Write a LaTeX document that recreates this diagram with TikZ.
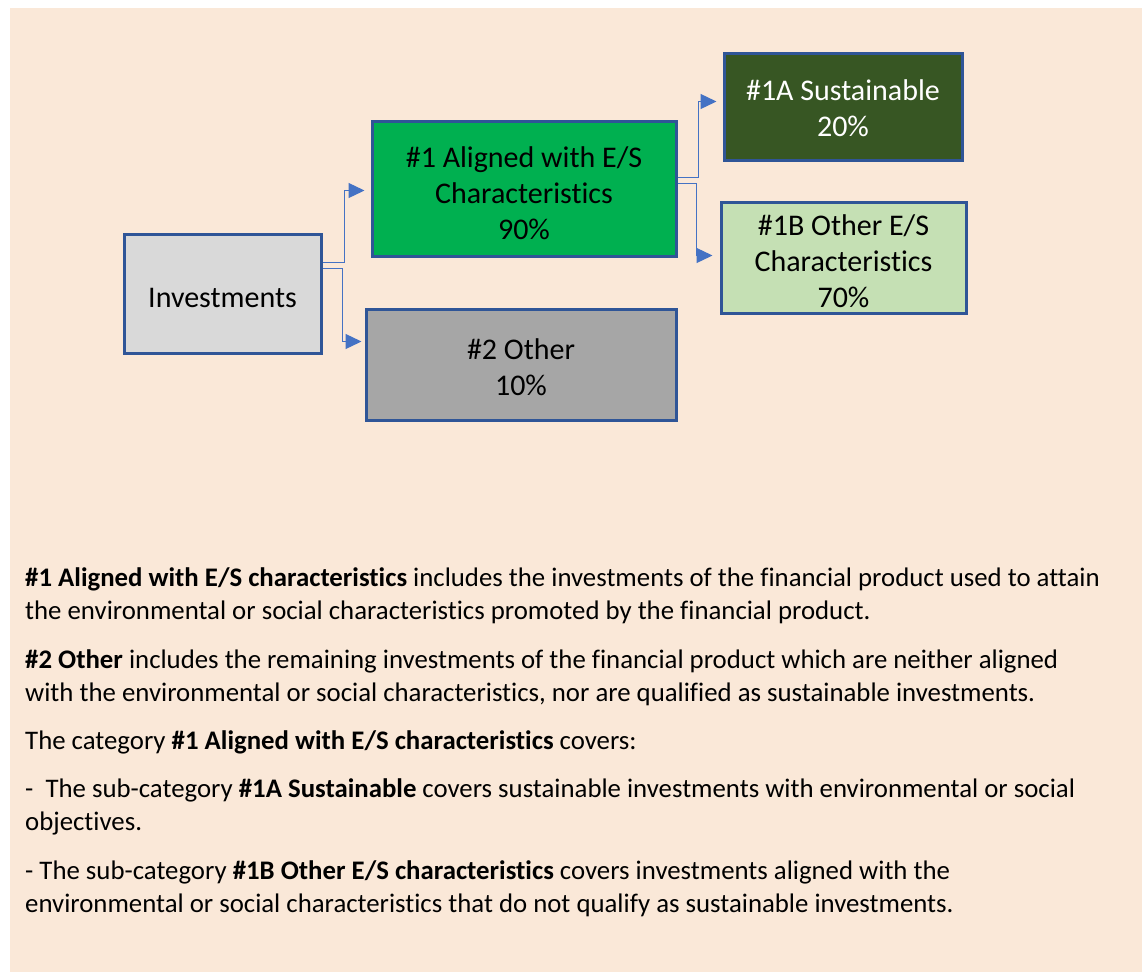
\documentclass[tikz,border=0pt]{standalone}
\usepackage{fontspec}
\setmainfont{Carlito}[Ligatures=CommonOff]
\usetikzlibrary{positioning,arrows.meta,calc}

\definecolor{peach}{HTML}{FAE8D8}
\definecolor{edgeblue}{HTML}{2F5597}
\definecolor{linkblue}{HTML}{4472C4}
\definecolor{invgray}{HTML}{D9D9D9}
\definecolor{othgray}{HTML}{A6A6A6}
\definecolor{brightgreen}{HTML}{00B050}
\definecolor{darkgreen}{HTML}{375623}
\definecolor{palegreen}{HTML}{C5E0B4}

\begin{document}
\begin{tikzpicture}[x=1pt, y=-1pt,
  box/.style={rectangle, draw=edgeblue, line width=3pt, align=center, inner sep=0pt,
    font=\fontsize{30}{36}\selectfont, text height=#1},
  box/.default=28pt,
  link/.style={draw=linkblue, line width=1.3pt, -{Triangle[length=16pt, width=15pt]}},
  para/.style={anchor=base west, align=left, inner sep=0pt,
    font=\fontsize{26.8}{33}\selectfont},
]

% page and background
\useasboundingbox (0,0) rectangle (1144,972);
\fill[peach] (10,8) rectangle (1142,972);

% Boxes
\node[box, fill=invgray, minimum width=197pt, minimum height=119pt] (inv) at (222.5,293.5) {Investments};
\node[box=101.5pt, fill=brightgreen, minimum width=304pt, minimum height=135pt] (algn) at (524,188.5)
  {\#1 Aligned with E/S\\Characteristics\\90\%};
\node[box=61.5pt, fill=othgray, minimum width=310pt, minimum height=111pt] (oth) at (521,364.5)
  {\#2 Other\\10\%};
\node[box=61pt, fill=darkgreen, text=white, minimum width=238pt, minimum height=107pt] (sust) at (843,106.5)
  {\#1A Sustainable\\20\%};
\node[box=99.5pt, fill=palegreen, minimum width=245pt, minimum height=111pt] (othes) at (843.5,257.5)
  {\#1B Other E/S\\Characteristics\\70\%};

% Links
\draw[link, shorten >=6pt] ($(inv.east)+(0,-31)$) -- ++(22,0) |- ($(algn.west)+(0,2)$);
\draw[link, shorten >=3pt] ($(inv.east)+(0,-25)$) -- ++(20,0) |- ($(oth.west)+(0,-23)$);
\draw[link, shorten >=6pt] ($(algn.east)+(0,-11)$) -- ++(21,0) |- ($(sust.west)+(0,-5)$);
\draw[link, shorten >=7pt] ($(algn.east)+(0,-5)$) -- ++(19,0) |- ($(othes.west)+(0,-2)$);

% Notes
\node[para] (p1) at (25,619) {\textbf{\#1 Aligned with E/S characteristics} includes the investments of the financial product used to attain\\
  the environmental or social characteristics promoted by the financial product.};
\node[para] (p2) at (25,701) {\textbf{\#2 Other} includes the remaining investments of the financial product which are neither aligned\\
  with the environmental or social characteristics, nor are qualified as sustainable investments.};
\node[para] (p3) at (25,749) {The category \textbf{\#1 Aligned with E/S characteristics} covers:};
\node[para] (p4) at (25,830) {-\ \ The sub-category \textbf{\#1A Sustainable} covers sustainable investments with environmental or social\\
  objectives.};
\node[para] (p5) at (25,912) {- The sub-category \textbf{\#1B Other E/S characteristics} covers investments aligned with the\\
  environmental or social characteristics that do not qualify as sustainable investments.};

\end{tikzpicture}
\end{document}
